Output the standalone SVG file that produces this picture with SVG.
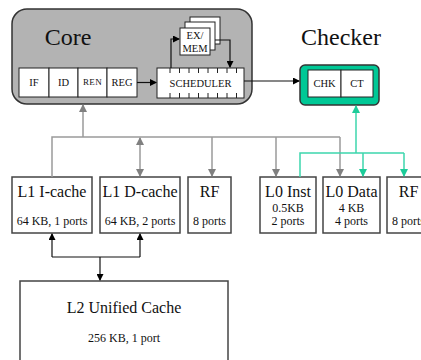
<svg xmlns="http://www.w3.org/2000/svg" width="421" height="360" viewBox="0 0 421 360">
<style>
text{font-family:'Liberation Serif',serif;fill:#111;text-anchor:middle}
.box{fill:#fff;stroke:#444;stroke-width:1.5}
.inner{fill:#fff;stroke:#222;stroke-width:1}
.g{stroke:#9a9a9a;stroke-width:1.5;fill:none}
.t{stroke:#3dd6ad;stroke-width:1.5;fill:none}
.k{stroke:#111;stroke-width:1.2;fill:none}
.big{font-size:24px}
.mid{font-size:16px}
.sm{font-size:12px}
.xs{font-size:10.5px}
</style>
<defs>
<marker id="ag" markerWidth="8" markerHeight="8" refX="7" refY="4" orient="auto" markerUnits="userSpaceOnUse"><path d="M0,0 L8,4 L0,8 Z" fill="#808080"/></marker>
<marker id="agr" markerWidth="8" markerHeight="8" refX="1" refY="4" orient="auto" markerUnits="userSpaceOnUse"><path d="M8,0 L0,4 L8,8 Z" fill="#808080"/></marker>
<marker id="at" markerWidth="8" markerHeight="8" refX="7" refY="4" orient="auto" markerUnits="userSpaceOnUse"><path d="M0,0 L8,4 L0,8 Z" fill="#1ccc99"/></marker>
<marker id="ak" markerWidth="7" markerHeight="7" refX="6" refY="3.5" orient="auto" markerUnits="userSpaceOnUse"><path d="M0,0 L7,3.5 L0,7 Z" fill="#000"/></marker>
</defs>
<g id="core">
<rect x="12" y="9" width="240" height="95" rx="15" fill="#b3b3b3" stroke="#333" stroke-width="1.5"/>
<text class="big" x="68" y="45">Core</text>
<rect class="inner" x="19" y="68" width="30" height="29"/>
<rect class="inner" x="49" y="68" width="29" height="29"/>
<rect class="inner" x="78" y="68" width="29" height="29"/>
<rect class="inner" x="107" y="68" width="30" height="29"/>
<text class="xs" x="34" y="86">IF</text>
<text class="xs" x="63.5" y="86">ID</text>
<text x="92.5" y="84.5" style="font-size:9px;letter-spacing:0.4px">REN</text>
<text class="xs" x="122" y="86">REG</text>
<rect class="inner" x="157" y="68" width="87" height="30"/>
<path stroke="#222" stroke-width="1" d="M170,68v5M179.5,68v5M189,68v5M198.5,68v5M208,68v5M217.5,68v5M227,68v5M236.5,68v5M170,98v-5M179.5,98v-5M189,98v-5M198.5,98v-5M208,98v-5M217.5,98v-5M227,98v-5M236.5,98v-5"/>
<text class="xs" x="200.5" y="87">SCHEDULER</text>
<rect class="inner" x="190" y="17" width="30" height="27"/>
<rect class="inner" x="185" y="22" width="30" height="28"/>
<rect class="inner" x="180" y="28" width="30" height="27"/>
<text class="xs" x="195" y="38.5">EX/</text>
<text class="xs" x="195" y="52">MEM</text>
<path class="k" d="M137,82.5H156" marker-end="url(#ak)"/>
<path class="k" d="M171,68V39H179" marker-end="url(#ak)"/>
<path class="k" d="M215,40H230V67" marker-end="url(#ak)"/>
</g>
<g id="checker">
<text class="big" x="341" y="45">Checker</text>
<rect x="300" y="65" width="79" height="40" rx="5" fill="#00c896" stroke="#333" stroke-width="1.5"/>
<rect class="inner" x="308" y="70" width="33" height="27"/>
<rect class="inner" x="341" y="70" width="32" height="27"/>
<text class="xs" x="324.5" y="87">CHK</text>
<text class="xs" x="357" y="87">CT</text>
</g>
<g id="l1i">
<rect class="box" x="12" y="177" width="80" height="56"/>
<text class="mid" x="52" y="197">L1 I-cache</text>
<text class="sm" x="52" y="225">64 KB, 1 ports</text>
</g>
<g id="l1d">
<rect class="box" x="100" y="177" width="80" height="56"/>
<text class="mid" x="140" y="197">L1 D-cache</text>
<text class="sm" x="140" y="225">64 KB, 2 ports</text>
</g>
<g id="rf1">
<rect class="box" x="188" y="177" width="43" height="56"/>
<text class="mid" x="209.5" y="197">RF</text>
<text class="sm" x="209.5" y="225">8 ports</text>
</g>
<g id="l0i">
<rect class="box" x="260" y="177" width="56" height="56"/>
<text class="mid" x="288" y="197">L0 Inst</text>
<text class="sm" x="288" y="212">0.5KB</text>
<text class="sm" x="288" y="225">2 ports</text>
</g>
<g id="l0d">
<rect class="box" x="323" y="177" width="57" height="56"/>
<text class="mid" x="351.5" y="197">L0 Data</text>
<text class="sm" x="351.5" y="212">4 KB</text>
<text class="sm" x="351.5" y="225">4 ports</text>
</g>
<g id="rf2">
<rect class="box" x="387" y="177" width="43" height="56"/>
<text class="mid" x="408.5" y="197">RF</text>
<text class="sm" x="408.5" y="225">8 ports</text>
</g>
<g id="l2">
<rect class="box" x="20" y="281" width="208" height="90"/>
<text class="mid" x="124" y="313">L2 Unified Cache</text>
<text class="sm" x="124" y="342">256 KB, 1 port</text>
</g>
<g id="connectors">
<path class="k" d="M244,81H299" marker-end="url(#ak)"/>
<path class="g" d="M52,177V137H340"/>
<path class="g" d="M83,137V105" marker-end="url(#ag)"/>
<path class="g" d="M140,138V176" marker-start="url(#agr)" marker-end="url(#ag)"/>
<path class="g" d="M212,137V176" marker-end="url(#ag)"/>
<path class="g" d="M276,137V176" marker-end="url(#ag)"/>
<path class="g" d="M340,137V176" marker-end="url(#ag)"/>
<path class="t" d="M300,177V153H404"/>
<path class="t" d="M356,153V106" marker-end="url(#at)"/>
<path class="t" d="M363,153V176" marker-end="url(#at)"/>
<path class="t" d="M404,153V176" marker-end="url(#at)"/>
<path class="k" d="M52,257V234" marker-end="url(#ak)"/>
<path class="k" d="M140,257V234" marker-end="url(#ak)"/>
<path class="k" d="M52,257H140"/>
<path class="k" d="M100,257V280" marker-end="url(#ak)"/>
</g>
</svg>
